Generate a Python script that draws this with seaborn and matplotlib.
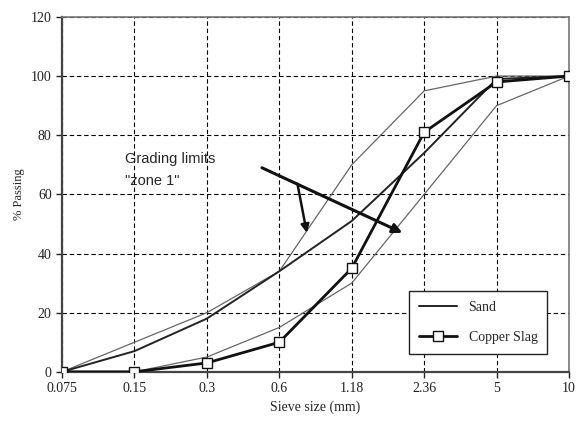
import pandas as pd
import matplotlib
matplotlib.use('Agg')
import matplotlib.pyplot as plt
import seaborn as sns

# Sieve sizes (mm) and % passing for each curve
sieves = ['0.075', '0.15', '0.3', '0.6', '1.18', '2.36', '5', '10']
upper_limit = [0, 10, 20, 34, 70, 95, 100, 100]
lower_limit = [0, 0, 5, 15, 30, 60, 90, 100]
sand = [0, 7, 18, 34, 51, 74, 99, 100]
copper_slag = [0, 0, 3, 10, 35, 81, 98, 100]

pos = list(range(len(sieves)))
df = pd.DataFrame({'pos': pos, 'upper': upper_limit, 'lower': lower_limit,
                   'sand': sand, 'copper': copper_slag})

sns.set_style('ticks')
plt.rcParams['font.family'] = ['Liberation Serif', 'DejaVu Serif']

fig = plt.figure(figsize=(5.8, 4.23), dpi=100)
ax = fig.add_axes([0.107, 0.121, 0.874, 0.839])

# Grading limits (zone 1)
sns.lineplot(data=df, x='pos', y='upper', ax=ax, color='#666666', lw=0.9, zorder=3)
sns.lineplot(data=df, x='pos', y='lower', ax=ax, color='#666666', lw=0.9, zorder=3)
# Sand and copper slag
sns.lineplot(data=df, x='pos', y='sand', ax=ax, color='#222222', lw=1.4,
             label='Sand', zorder=4)
sns.lineplot(data=df, x='pos', y='copper', ax=ax, color='#111111', lw=2.0,
             marker='s', markersize=7, markerfacecolor='white',
             markeredgecolor='#111111', markeredgewidth=1.0,
             label='Copper Slag', zorder=5)

ax.set_xlim(0, len(sieves) - 1)
ax.set_ylim(0, 120)
ax.set_xticks(pos)
ax.set_xticklabels(sieves)
ax.set_yticks(range(0, 121, 20))
ax.tick_params(labelsize=10, length=4, width=1, colors='#222222')
ax.grid(True, color='black', linestyle=(0, (4, 2.5)), lw=0.8)
for sp in ['left', 'bottom']:
    ax.spines[sp].set_color('#444444')
    ax.spines[sp].set_linewidth(1.6)
for sp in ['top', 'right']:
    ax.spines[sp].set_visible(True)
    ax.spines[sp].set_color('#777777')
    ax.spines[sp].set_linewidth(1.2)

ax.set_xlabel('Sieve size (mm)', fontsize=10)
ax.set_ylabel('% Passing', fontsize=9)

leg = ax.legend(loc='lower right', bbox_to_anchor=(0.957, 0.05), frameon=True,
                fancybox=False, fontsize=10, handlelength=2.8,
                borderpad=0.7, labelspacing=1.25, borderaxespad=0)
leg.get_frame().set_edgecolor('#222222')
leg.get_frame().set_linewidth(1.0)
leg.get_frame().set_alpha(1)

# Grading limits annotation with arrows
ax.text(0.87, 68.3, 'Grading limits\n"zone 1"', fontsize=10.5,
        family=['Liberation Sans', 'DejaVu Sans'], va='center', linespacing=1.75)
ax.annotate('', xy=(4.70, 47), xytext=(2.76, 69),
            arrowprops=dict(arrowstyle='-|>', color='#111111', lw=2.2,
                            mutation_scale=14, shrinkA=0, shrinkB=0), zorder=6)
ax.annotate('', xy=(3.38, 47), xytext=(3.25, 63.6),
            arrowprops=dict(arrowstyle='-|>', color='#111111', lw=1.8,
                            mutation_scale=12, shrinkA=0, shrinkB=0), zorder=6)

fig.savefig('out.png', dpi=100)
